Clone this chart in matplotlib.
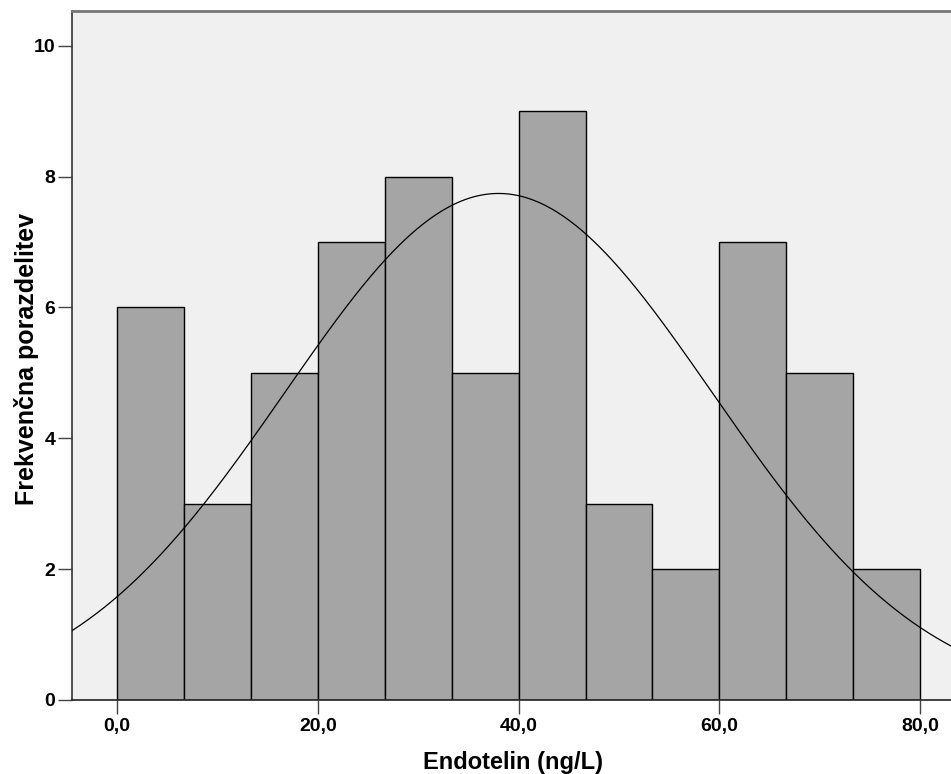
import matplotlib
matplotlib.use("Agg")
import matplotlib.pyplot as plt
import numpy as np

# histogram bins and counts
bin_edges = np.linspace(0, 80, 13)
counts = [6, 3, 5, 7, 8, 5, 9, 3, 2, 7, 5, 2]

# normal curve parameters (estimated)
mean = 38.0
sd = 21.3
n_total = sum(counts)

x_ticks = [0, 20, 40, 60, 80]
x_tick_labels = ["0,0", "20,0", "40,0", "60,0", "80,0"]
y_ticks = [0, 2, 4, 6, 8, 10]

plt.rcParams['font.family'] = ['Liberation Sans', 'DejaVu Sans']

fig = plt.figure(figsize=(9.51, 7.74), dpi=100)
ax = fig.add_axes([72 / 951, 74 / 774, 879 / 951, 689 / 774])
ax.set_facecolor('#F0F0F0')

widths = np.diff(bin_edges)
ax.bar(bin_edges[:-1], counts, width=widths, align='edge',
       color='#A5A5A5', edgecolor='black', linewidth=1.0, zorder=2)

# normal curve scaled to counts
bw = widths[0]
xs = np.linspace(-10, 90, 500)
ys = n_total * bw / (sd * np.sqrt(2 * np.pi)) * np.exp(-0.5 * ((xs - mean) / sd) ** 2)
ax.plot(xs, ys, color='black', linewidth=0.9, zorder=3)

ax.set_xlim(-4.48, 83.07)
ax.set_ylim(0, 10.53)

ax.set_xticks(x_ticks)
ax.set_xticklabels(x_tick_labels)
ax.set_yticks(y_ticks)
ax.tick_params(axis='both', direction='out', length=10, width=1, labelsize=14, color='#444444')
ax.tick_params(axis='y', pad=2)
ax.tick_params(axis='x', pad=3)
for lbl in ax.get_xticklabels() + ax.get_yticklabels():
    lbl.set_fontweight('bold')

ax.spines['right'].set_visible(False)
ax.spines['top'].set_color('#777777')
ax.spines['top'].set_linewidth(2)
ax.spines['left'].set_color('#333333')
ax.spines['bottom'].set_color('#222222')
ax.spines['left'].set_linewidth(1.2)
ax.spines['bottom'].set_linewidth(1.2)

ax.set_xlabel('Endotelin (ng/L)', fontsize=17, fontweight='bold', va='center')
ax.set_ylabel('Frekvenčna porazdelitev', fontsize=18, fontweight='bold', va='center')
ax.xaxis.set_label_coords((513 - 72) / 879, (774 - 762 - 74) / 689)
ax.yaxis.set_label_coords((27 - 72) / 879, (774 - 359 - 74) / 689)

fig.savefig('out.png', dpi=100)
